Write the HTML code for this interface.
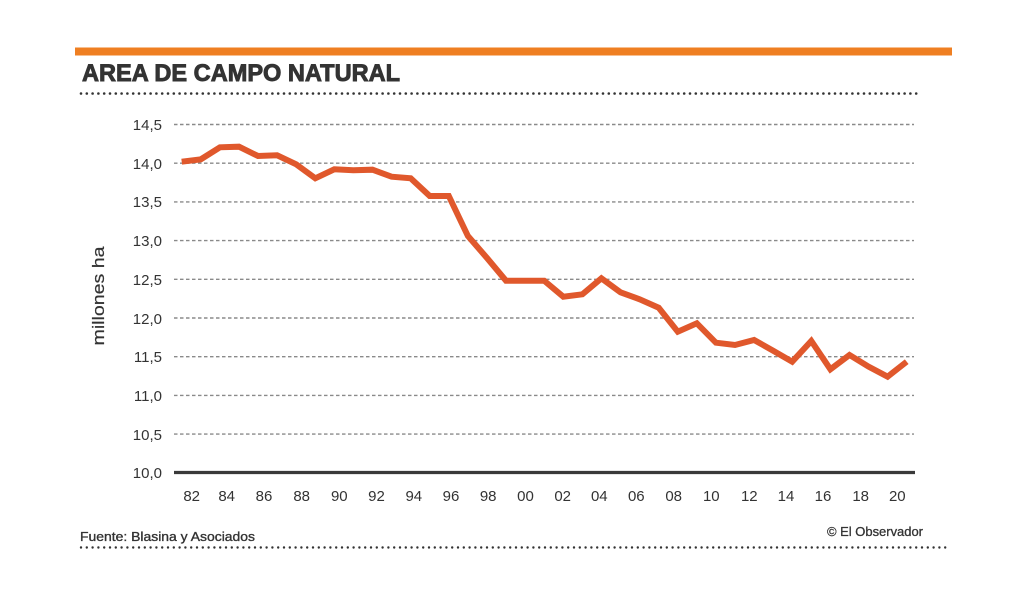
<!DOCTYPE html>
<html><head><meta charset="utf-8"><style>
html,body{margin:0;padding:0;background:#fff;}
svg{display:block;}
text{font-family:"Liberation Sans",sans-serif;}
</style></head><body>
<svg width="1024" height="597" viewBox="0 0 1024 597" xmlns="http://www.w3.org/2000/svg">
<rect width="1024" height="597" fill="#fff"/>
<rect x="75" y="47.5" width="877" height="8" fill="#ef7f22"/>
<text x="82" y="81" font-size="24" font-weight="bold" fill="#333" stroke="#333" stroke-width="0.9" textLength="318" lengthAdjust="spacingAndGlyphs">AREA DE CAMPO NATURAL</text>
<line x1="81" y1="93.5" x2="921" y2="93.5" stroke="#333" stroke-width="2.6" stroke-dasharray="0 5.8" stroke-linecap="round"/>
<g stroke="#8a8a8a" stroke-width="1.4" stroke-dasharray="3.5 2.5">
<line x1="174" y1="124.5" x2="914" y2="124.5"/>
<line x1="174" y1="163.2" x2="914" y2="163.2"/>
<line x1="174" y1="201.9" x2="914" y2="201.9"/>
<line x1="174" y1="240.6" x2="914" y2="240.6"/>
<line x1="174" y1="279.3" x2="914" y2="279.3"/>
<line x1="174" y1="318" x2="914" y2="318"/>
<line x1="174" y1="356.7" x2="914" y2="356.7"/>
<line x1="174" y1="395.4" x2="914" y2="395.4"/>
<line x1="174" y1="434.1" x2="914" y2="434.1"/>
</g>
<line x1="174" y1="472.5" x2="915" y2="472.5" stroke="#3a3a3a" stroke-width="3.2"/>
<g font-size="15" fill="#333" text-anchor="end">
<text x="162" y="130">14,5</text>
<text x="162" y="169">14,0</text>
<text x="162" y="207">13,5</text>
<text x="162" y="246">13,0</text>
<text x="162" y="285">12,5</text>
<text x="162" y="324">12,0</text>
<text x="162" y="362">11,5</text>
<text x="162" y="401">11,0</text>
<text x="162" y="440">10,5</text>
<text x="162" y="478">10,0</text>
</g>
<text transform="translate(104,296) rotate(-90)" font-size="17" fill="#333" stroke="#333" stroke-width="0.2" text-anchor="middle" textLength="99" lengthAdjust="spacingAndGlyphs">millones ha</text>
<g font-size="15" fill="#333" text-anchor="middle">
<text x="191.7" y="501">82</text>
<text x="226.7" y="501">84</text>
<text x="264" y="501">86</text>
<text x="301.7" y="501">88</text>
<text x="339.3" y="501">90</text>
<text x="376.5" y="501">92</text>
<text x="413.8" y="501">94</text>
<text x="451" y="501">96</text>
<text x="488.2" y="501">98</text>
<text x="525.5" y="501">00</text>
<text x="562.7" y="501">02</text>
<text x="599.3" y="501">04</text>
<text x="636.3" y="501">06</text>
<text x="673.7" y="501">08</text>
<text x="711.3" y="501">10</text>
<text x="749.3" y="501">12</text>
<text x="786" y="501">14</text>
<text x="823" y="501">16</text>
<text x="860.7" y="501">18</text>
<text x="897.3" y="501">20</text>
</g>
<polyline fill="none" stroke="#e0582c" stroke-width="6" stroke-linejoin="miter" stroke-linecap="butt" points="181.7,161.7 200.8,159.3 219.9,147.3 239,146.7 258,156 277.1,155.3 296.2,164.3 315.3,178.3 334.3,169.3 353.4,170.3 372.5,169.7 391.6,176.7 410.7,178.3 429.7,196 448.8,196 467.9,236 487,258 506,280.7 525.1,280.7 544.2,280.7 563.3,296.7 582.4,294.3 601.4,278.3 620.5,292.3 639.6,299.3 658.7,307.7 677.8,331.7 696.8,323.3 715.9,342.7 735,345 754.1,340 773.2,350.7 792.2,361.7 811.3,341 830.4,369.3 849.5,355 868.6,366.7 887.6,376.7 906.7,361.7"/>
<text x="80" y="541" font-size="13" fill="#333" stroke="#333" stroke-width="0.35" textLength="175" lengthAdjust="spacingAndGlyphs">Fuente: Blasina y Asociados</text>
<text x="923" y="536" font-size="13" fill="#333" stroke="#333" stroke-width="0.3" text-anchor="end" textLength="96" lengthAdjust="spacingAndGlyphs">© El Observador</text>
<line x1="81" y1="547.5" x2="947" y2="547.5" stroke="#333" stroke-width="2.4" stroke-dasharray="0 5.8" stroke-linecap="round"/>
</svg>
</body></html>
